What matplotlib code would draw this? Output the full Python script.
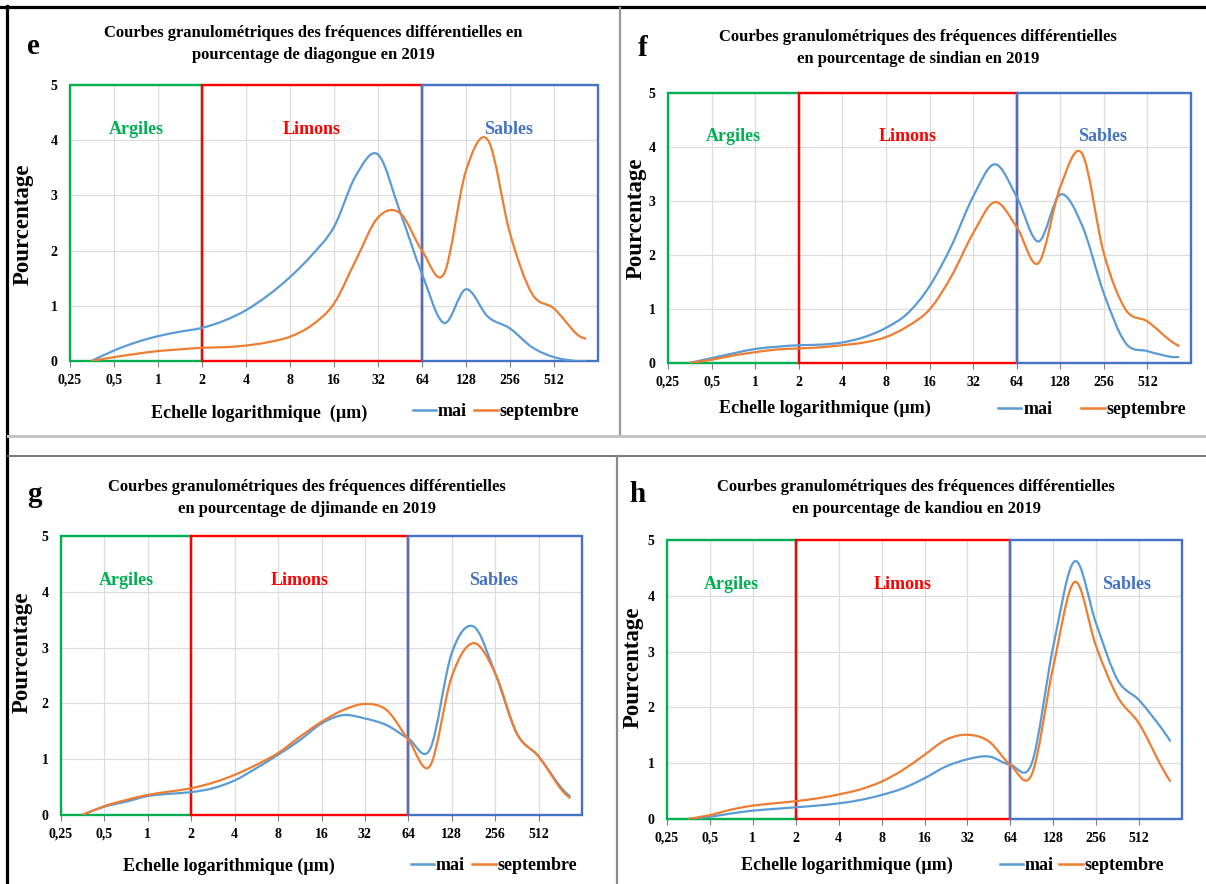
import matplotlib
matplotlib.use("Agg")
import matplotlib.pyplot as plt
import numpy as np
from matplotlib.path import Path
from matplotlib.patches import PathPatch, Rectangle
from matplotlib.lines import Line2D
from matplotlib.ticker import NullLocator

W, H = 1206, 884

plt.rcParams["font.family"] = ["Liberation Serif", "DejaVu Serif"]
plt.rcParams["font.weight"] = "bold"

# grain sizes (um) of the measured points
SIZES_UM = [0.35, 0.5, 0.71, 1, 1.41, 2, 2.83, 4, 5.66, 8, 11.3, 16, 22.6,
            32, 45.3, 64, 90.5, 128, 181, 256, 362, 512, 724, 850]

TICKS_UM = [0.25, 0.5, 1, 2, 4, 8, 16, 32, 64, 128, 256, 512]
TICK_LABELS = ["0,25", "0,5", "1", "2", "4", "8", "16", "32", "64", "128", "256", "512"]

ZONE_NAMES = ["Argiles", "Limons", "Sables"]
ZONE_LIMITS = [(0.25, 2), (2, 64), (64, 1024)]

SERIES_NAMES = ["mai", "septembre"]

# panel e - diagongue
E_MAI = [0, 0.19, 0.34, 0.45, 0.53, 0.60, 0.73, 0.92, 1.19, 1.52, 1.92, 2.43,
         3.36, 3.74, 2.70, 1.58, 0.69, 1.30, 0.80, 0.59, 0.25, 0.07, 0.0, 0.0]
E_SEP = [0, 0.07, 0.13, 0.18, 0.21, 0.24, 0.25, 0.28, 0.34, 0.44, 0.65, 1.04,
         1.83, 2.60, 2.68, 2.00, 1.58, 3.45, 4.00, 2.31, 1.22, 0.95, 0.50, 0.40]
# panel f - sindian
F_MAI = [0, 0.09, 0.18, 0.26, 0.30, 0.33, 0.34, 0.38, 0.48, 0.65, 0.92, 1.42,
         2.16, 3.08, 3.68, 3.08, 2.25, 3.12, 2.55, 1.29, 0.37, 0.22, 0.12, 0.11]
F_SEP = [0, 0.06, 0.14, 0.20, 0.25, 0.27, 0.29, 0.33, 0.38, 0.48, 0.68, 0.99,
         1.60, 2.40, 2.98, 2.52, 1.85, 3.26, 3.88, 2.03, 0.99, 0.77, 0.43, 0.31]
# panel g - djimande
G_MAI = [0, 0.15, 0.24, 0.34, 0.38, 0.41, 0.48, 0.62, 0.84, 1.08, 1.34, 1.64,
         1.79, 1.73, 1.61, 1.37, 1.18, 2.90, 3.38, 2.54, 1.46, 1.05, 0.51, 0.33]
G_SEP = [0, 0.16, 0.27, 0.36, 0.42, 0.48, 0.58, 0.72, 0.90, 1.11, 1.40, 1.67,
         1.88, 1.99, 1.88, 1.35, 0.88, 2.48, 3.08, 2.54, 1.46, 1.05, 0.48, 0.30]
# panel h - kandiou
H_MAI = [0, 0.04, 0.10, 0.15, 0.18, 0.21, 0.24, 0.28, 0.34, 0.43, 0.55, 0.73,
         0.94, 1.07, 1.12, 0.97, 1.00, 3.09, 4.62, 3.50, 2.49, 2.13, 1.65, 1.39]
H_SEP = [0, 0.07, 0.17, 0.24, 0.28, 0.32, 0.37, 0.44, 0.53, 0.67, 0.88, 1.15,
         1.42, 1.51, 1.39, 0.97, 0.80, 2.73, 4.25, 3.09, 2.19, 1.71, 0.97, 0.67]

TITLES = [
    "Courbes granulométriques des fréquences différentielles en\npourcentage de diagongue en 2019",
    "Courbes granulométriques des fréquences différentielles\nen pourcentage de sindian en 2019",
    "Courbes granulométriques des fréquences différentielles\nen pourcentage de djimande en 2019",
    "Courbes granulométriques des fréquences différentielles\nen pourcentage de kandiou en 2019",
]
LETTERS = ["e", "f", "g", "h"]
XLABELS = ["Echelle logarithmique  (µm)", "Echelle logarithmique (µm)",
           "Echelle logarithmique (µm)", "Echelle logarithmique (µm)"]

ZONE_COLORS = ["#00B050", "#FF0000", "#4472C4"]
LINE_COLORS = ["#5B9BD5", "#ED7D31"]

# layout in pixels (left, top, right, bottom); ylab = label centre in pixels
PANELS = [
    dict(rect=(70, 85, 598, 361), title=(313, 44), letter=(33, 47),
         xlabel=(259, 413), legend=(496, 412), colsp=0.4, ylab=(23, 224),
         sables_x=250, data=(E_MAI, E_SEP)),
    dict(rect=(668, 93, 1191, 363), title=(918, 48), letter=(643, 48),
         xlabel=(825, 408), legend=(1092, 410), colsp=1.6, ylab=(636, 218),
         sables_x=250, data=(F_MAI, F_SEP)),
    dict(rect=(61, 536, 582, 815), title=(307, 498), letter=(34, 495),
         xlabel=(229, 866), legend=(494, 866), colsp=0.4, ylab=(22, 652),
         sables_x=250, data=(G_MAI, G_SEP)),
    dict(rect=(667, 540, 1182, 819), title=(916, 498), letter=(637, 495),
         xlabel=(847, 865), legend=(1082, 866), colsp=0.3, ylab=(633, 667),
         sables_x=420, data=(H_MAI, H_SEP)),
]


def fx(x):
    return x / W


def fy(y):
    return 1 - y / H


def smooth_path(xs, ys):
    # Excel-style smoothed line: cubic bezier through the points in log2 space
    lx = np.log2(xs)
    y = np.asarray(ys, float)
    n = len(lx)
    verts = [(xs[0], y[0])]
    codes = [Path.MOVETO]
    for i in range(n - 1):
        i0 = max(i - 1, 0)
        i3 = min(i + 2, n - 1)
        c1 = (lx[i] + (lx[i + 1] - lx[i0]) / 6, y[i] + (y[i + 1] - y[i0]) / 6)
        c2 = (lx[i + 1] - (lx[i3] - lx[i]) / 6, y[i + 1] - (y[i3] - y[i]) / 6)
        verts += [(2 ** c1[0], c1[1]), (2 ** c2[0], c2[1]), (xs[i + 1], y[i + 1])]
        codes += [Path.CURVE4] * 3
    return Path(verts, codes)


fig = plt.figure(figsize=(W / 100, H / 100), dpi=100)

for p, title, letter, xlab in zip(PANELS, TITLES, LETTERS, XLABELS):
    l, t, r, b = p["rect"]
    ax = fig.add_axes([fx(l), fy(b), (r - l) / W, (b - t) / H])
    ax.set_xscale("log", base=2)
    ax.set_xlim(0.25, 1024)
    ax.set_ylim(0, 5)
    ax.set_xticks(TICKS_UM)
    ax.set_xticklabels(TICK_LABELS)
    ax.xaxis.set_minor_locator(NullLocator())
    ax.set_yticks(range(6))
    ax.grid(True, color="#DCDCDC", lw=0.9)
    ax.set_axisbelow(True)
    for s in ax.spines.values():
        s.set_visible(False)
    ax.tick_params(axis="x", length=4, color="#7F7F7F", labelsize=10, pad=5)
    ax.tick_params(axis="y", length=0, labelsize=10, pad=9)

    for name, (z0, z1), col in zip(ZONE_NAMES, ZONE_LIMITS, ZONE_COLORS):
        ax.add_patch(Rectangle((z0, 0), z1 - z0, 5, fill=False, edgecolor=col,
                               lw=1.7, zorder=3, clip_on=False))
        xc = np.sqrt(z0 * z1) if name != "Sables" else p["sables_x"]
        ax.text(xc, 4.2, name, color=col, ha="center", va="center",
                fontsize=13, fontweight="bold", zorder=5)

    handles = []
    for vals, col, lab in zip(p["data"], LINE_COLORS, SERIES_NAMES):
        ax.add_patch(PathPatch(smooth_path(SIZES_UM, vals), fill=False,
                               edgecolor=col, lw=1.6, zorder=4))
        handles.append(Line2D([], [], color=col, lw=1.8, label=lab))

    fig.text(fx(p["ylab"][0]), fy(p["ylab"][1]), "Pourcentage", rotation=90,
             ha="center", va="center", fontsize=16.5, fontweight="bold")
    fig.text(fx(p["title"][0]), fy(p["title"][1]), title, ha="center",
             va="center", fontsize=12, fontweight="bold", linespacing=1.55)
    fig.text(fx(p["letter"][0]), fy(p["letter"][1]), letter, ha="center",
             va="center", fontsize=21, fontweight="bold")
    fig.text(fx(p["xlabel"][0]), fy(p["xlabel"][1]), xlab, ha="center",
             va="center", fontsize=13, fontweight="bold")
    fig.legend(handles=handles, loc="center",
               bbox_to_anchor=(fx(p["legend"][0]), fy(p["legend"][1])),
               ncol=2, frameon=False, fontsize=13, handlelength=1.3,
               handletextpad=0.1, columnspacing=p["colsp"], borderpad=0)

# panel frame lines
fig.add_artist(Line2D([0, 1], [fy(7), fy(7)], color="black", lw=2.3))
fig.add_artist(Line2D([fx(7), fx(7)], [fy(6), 0], color="black", lw=2.3))
fig.add_artist(Line2D([fx(620), fx(620)], [fy(8), fy(436)], color="#9A9A9A", lw=1.6))
fig.add_artist(Line2D([fx(8), 1], [fy(436), fy(436)], color="#C4C4C4", lw=2.2))
fig.add_artist(Line2D([fx(8), 1], [fy(456), fy(456)], color="#6E6E6E", lw=1.3))
fig.add_artist(Line2D([fx(617), fx(617)], [fy(456), 0], color="#8A8A8A", lw=1.6))

fig.savefig("out.png", dpi=100, facecolor="white")
